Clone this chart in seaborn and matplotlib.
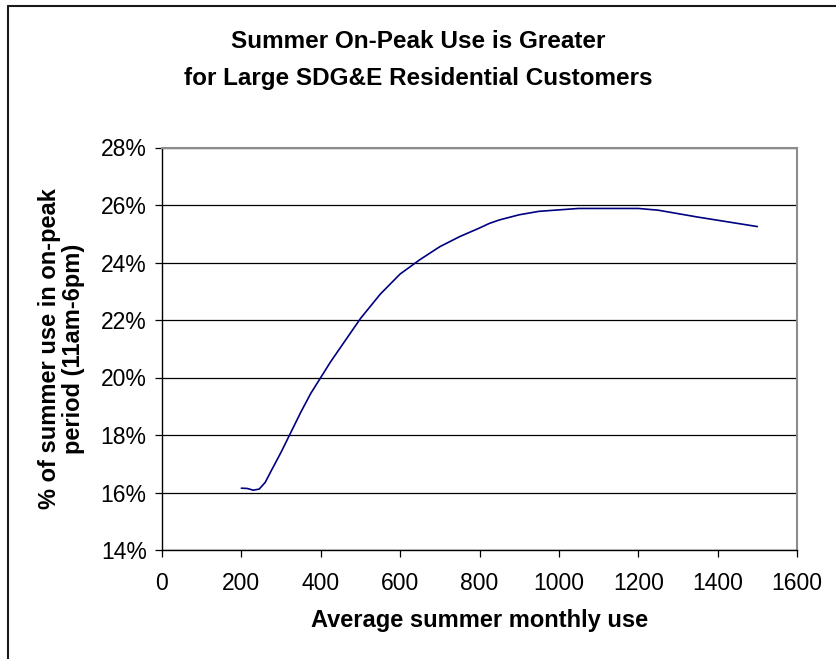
import matplotlib
matplotlib.use("Agg")
import matplotlib.pyplot as plt
from matplotlib.lines import Line2D
from matplotlib.ticker import PercentFormatter
import seaborn as sns
import pandas as pd

# Average summer monthly use (kWh) and share of use in the on-peak period (%)
monthly_use = [200, 215, 230, 245, 260, 275, 300, 325, 350, 375, 400, 425,
               450, 500, 550, 600, 650, 700, 750, 800, 825, 850, 900, 950,
               1000, 1050, 1100, 1150, 1200, 1250, 1300, 1350, 1400, 1450,
               1500]
on_peak_pct = [16.15, 16.14, 16.08, 16.12, 16.35, 16.75, 17.40, 18.10,
               18.80, 19.45, 20.00, 20.55, 21.05, 22.05, 22.90, 23.60,
               24.10, 24.55, 24.90, 25.20, 25.36, 25.48, 25.66, 25.78,
               25.83, 25.88, 25.88, 25.88, 25.88, 25.82, 25.70, 25.58,
               25.47, 25.36, 25.25]

x_ticks = [0, 200, 400, 600, 800, 1000, 1200, 1400, 1600]
y_ticks = [14, 16, 18, 20, 22, 24, 26, 28]

title_lines = ["Summer On-Peak Use is Greater",
               "for Large SDG&E Residential Customers"]
x_label = "Average summer monthly use"
y_label = "% of summer use in on-peak\nperiod (11am-6pm)"

df = pd.DataFrame({"use": monthly_use, "pct": on_peak_pct})

sns.set_style("white")
plt.rcParams["font.family"] = ["Liberation Sans", "DejaVu Sans"]
plt.rcParams["text.color"] = "black"
plt.rcParams["axes.labelcolor"] = "black"

fig = plt.figure(figsize=(8.36, 6.59), dpi=100)
fig.patch.set_facecolor("white")
ax = fig.add_axes([162 / 836, 1 - 550 / 659, 635 / 836, 402.5 / 659])

sns.lineplot(data=df, x="use", y="pct", ax=ax, color="#000080",
             linewidth=1.2, sort=False, estimator=None)

ax.set_xlim(x_ticks[0], x_ticks[-1])
ax.set_ylim(y_ticks[0], y_ticks[-1])
ax.set_xticks(x_ticks)
ax.set_yticks(y_ticks)
ax.yaxis.set_major_formatter(PercentFormatter(xmax=100, decimals=0))

ax.grid(axis="y", color="black", linewidth=0.9)
ax.grid(axis="x", visible=False)
ax.set_axisbelow(True)

for side in ("left", "bottom"):
    ax.spines[side].set_color("black")
    ax.spines[side].set_linewidth(1.0)
for side in ("top", "right"):
    ax.spines[side].set_color("#8c8c8c")
    ax.spines[side].set_linewidth(1.5)
    ax.spines[side].set_visible(True)

ax.tick_params(axis="both", which="major", direction="out", length=5,
               width=0.9, color="black", labelsize=16.5, labelcolor="black")
ax.tick_params(axis="x", pad=11)
ax.tick_params(axis="y", pad=6)
ax.tick_params(bottom=True, left=True)

ax.set_xlabel(x_label, fontsize=17, fontweight="bold", labelpad=10,
              color="black")
ax.set_ylabel(y_label, fontsize=17, fontweight="bold", labelpad=11,
              linespacing=1.1, color="black")

for i, line in enumerate(title_lines):
    fig.text(0.5, 1 - (41 + 38 * i) / 659, line, ha="center", va="center",
             fontsize=17.5, fontweight="bold", color="black")

# Chart area frame (left and top edges)
fig.add_artist(Line2D([8 / 836, 8 / 836], [0, 1 - 6 / 659],
                      transform=fig.transFigure, color="#1a1a1a", linewidth=1.5))
fig.add_artist(Line2D([8 / 836, 1], [1 - 6 / 659, 1 - 6 / 659],
                      transform=fig.transFigure, color="#1a1a1a", linewidth=1.5))

fig.savefig("out.png", dpi=100, facecolor="white")
